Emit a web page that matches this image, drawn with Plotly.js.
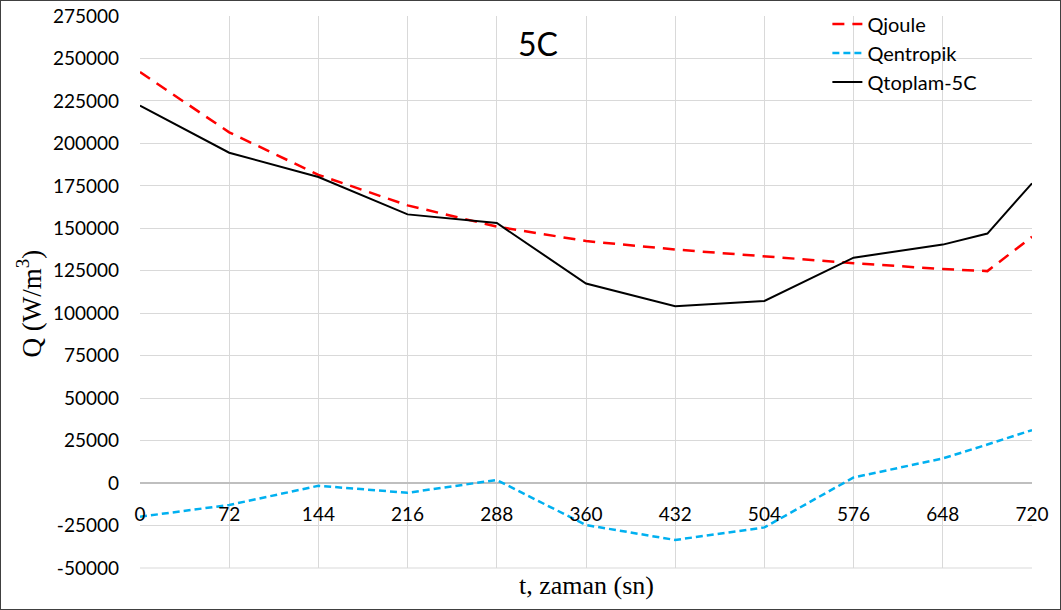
<!DOCTYPE html>
<html>
<head>
<meta charset="utf-8">
<script src="https://cdn.plot.ly/plotly-3.0.1.min.js"></script>
<style>
  html, body { margin: 0; padding: 0; background: #fff; }
  #frame { width: 1061px; height: 610px; box-sizing: border-box; border: 1px solid #404040; }
  #chart { width: 1059px; height: 608px; }
</style>
</head>
<body>
<div id="frame"><div id="chart"></div></div>
<script>
// time steps (s)
const t = [0, 72, 144, 216, 288, 360, 432, 504, 576, 648, 684, 720];
// heat generation terms (W/m3)
const qJoule    = [242000, 206500, 181500, 163500, 151000, 142500, 137500, 133500, 129500, 126000, 124800, 145000];
const qEntropik = [-19800, -12900, -1600, -5700, 1800, -24700, -33500, -26100, 3300, 14500, 22700, 31200];
const qToplam   = [222300, 194500, 180200, 158200, 153100, 117500, 104100, 107200, 132700, 140400, 146900, 176500];
const xTicks = [0, 72, 144, 216, 288, 360, 432, 504, 576, 648, 720];
const yTicks = [-50000, -25000, 0, 25000, 50000, 75000, 100000, 125000, 150000, 175000, 200000, 225000, 250000, 275000];

const yMin = -50000, yMax = 275000;
const tickFont = { family: 'Lato, "Open Sans", sans-serif', size: 19, color: '#000' };
const serif = '"Liberation Serif", "Times New Roman", serif';

const traces = [
  { x: t, y: qJoule, name: 'Qjoule', mode: 'lines',
    line: { color: '#FF0000', width: 2.5, dash: '12px,8px' } },
  { x: t, y: qEntropik, name: 'Qentropik', mode: 'lines',
    line: { color: '#00B0F0', width: 2.5, dash: '7px,4px' } },
  { x: t, y: qToplam, name: 'Qtoplam-5C', mode: 'lines',
    line: { color: '#000000', width: 2 } }
];

const layout = {
  width: 1059, height: 608,
  margin: { l: 139, r: 28, t: 15, b: 41, autoexpand: false },
  paper_bgcolor: '#fff', plot_bgcolor: '#fff',
  showlegend: true,
  hovermode: false,
  title: { text: '5C', font: { family: 'Lato, "Open Sans", sans-serif', size: 32, color: '#000' },
           x: 537 / 1059, xanchor: 'center', y: 1 - 44 / 608, yanchor: 'middle' },
  xaxis: {
    range: [0, 720], tickvals: xTicks, ticktext: xTicks.map(String),
    showgrid: true, gridcolor: '#d9d9d9', gridwidth: 1,
    zeroline: false, showline: false, ticks: '',
    anchor: 'free', position: (0 - yMin) / (yMax - yMin),
    ticklabelstandoff: 18, tickfont: tickFont
  },
  yaxis: {
    range: [yMin, yMax], tickvals: yTicks, ticktext: yTicks.map(String),
    showgrid: true, gridcolor: '#d9d9d9', gridwidth: 1,
    zeroline: true, zerolinecolor: '#bfbfbf', zerolinewidth: 1.5,
    showline: false, ticks: '', ticklabelstandoff: 20, tickfont: tickFont
  },
  legend: {
    x: 0.7706, y: 1.021, xanchor: 'left', yanchor: 'top',
    bgcolor: 'rgba(0,0,0,0)', borderwidth: 0,
    font: { family: 'Lato, "Open Sans", sans-serif', size: 20, color: '#000' }
  },
  shapes: [
    // bottom edge of the plot grid
    { type: 'line', xref: 'paper', yref: 'paper', x0: 0, x1: 1, y0: 0, y1: 0,
      line: { color: '#d9d9d9', width: 1 }, layer: 'below' }
  ],
  annotations: [
    { text: 't, zaman (sn)', xref: 'paper', yref: 'paper', x: 0.5, y: -0.031,
      xanchor: 'center', yanchor: 'middle', showarrow: false,
      font: { family: serif, size: 26, color: '#000' } },
    { text: 'Q (W/m<sup>3</sup>)', xref: 'paper', yref: 'paper', x: -0.124, y: 0.48,
      xanchor: 'center', yanchor: 'middle', textangle: -90, showarrow: false,
      font: { family: serif, size: 27, color: '#000' } }
  ]
};

Plotly.newPlot('chart', traces, layout, { displayModeBar: false, staticPlot: true });
</script>
</body>
</html>
